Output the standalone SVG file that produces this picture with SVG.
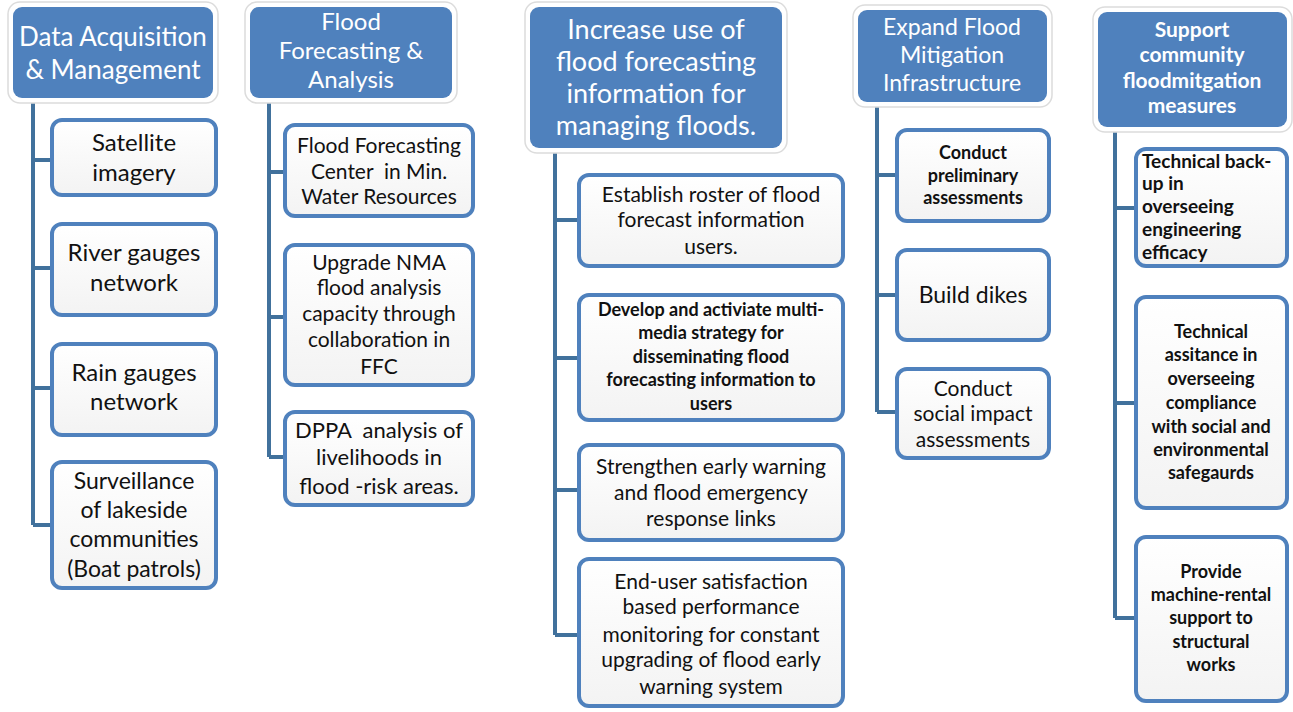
<svg xmlns="http://www.w3.org/2000/svg" width="1293" height="712" viewBox="0 0 1293 712">
<style>
.halo{fill:#fff;stroke:#dcdcdc;stroke-width:1.5}
.head{fill:#4F81BD}
.ht{fill:#fff;font-family:Lato,"Liberation Sans",sans-serif;text-anchor:middle}
.box{fill:url(#g);stroke:#4F81BD;stroke-width:4}
.bt{fill:#111;font-family:Lato,"Liberation Sans",sans-serif;text-anchor:middle}
.b{font-weight:bold}
.con{fill:none;stroke:#41719C;stroke-width:4}
</style>
<defs>
<linearGradient id="g" x1="0" y1="0" x2="0" y2="1"><stop offset="0" stop-color="#ffffff"/><stop offset="1" stop-color="#f3f3f3"/></linearGradient>
</defs>
<rect width="1293" height="712" fill="#fff"/>
<g id="connectors">
<path class="con" d="M33 98V525M33 160H50M33 268H50M33 388H50M33 525H50"/>
<path class="con" d="M269 98V457M269 172H283M269 317H283M269 457H283"/>
<path class="con" d="M555 148V635M555 220H577M555 358H577M555 490H577M555 635H577"/>
<path class="con" d="M877 102V412M877 175H895M877 295H895M877 412H895"/>
<path class="con" d="M1115 127V618M1115 208H1134M1115 403H1134M1115 618H1134"/>
</g>
<g id="h1"><rect class="halo" x="8" y="2" width="210" height="101" rx="12"/><rect class="head" x="13" y="7" width="200" height="91" rx="9"/>
<text class="ht" font-size="26"><tspan x="113" y="46">Data Acquisition</tspan><tspan x="113" y="79">&amp; Management</tspan></text></g>
<g id="h2"><rect class="halo" x="245" y="2" width="212" height="101" rx="12"/><rect class="head" x="250" y="7" width="202" height="91" rx="9"/>
<text class="ht" font-size="24"><tspan x="351" y="30">Flood</tspan><tspan x="351" y="59">Forecasting &amp;</tspan><tspan x="351" y="88">Analysis</tspan></text></g>
<g id="h3"><rect class="halo" x="525" y="2" width="262" height="151" rx="12"/><rect class="head" x="530" y="7" width="252" height="141" rx="9"/>
<text class="ht" font-size="27"><tspan x="656" y="39">Increase use of</tspan><tspan x="656" y="71">flood forecasting</tspan><tspan x="656" y="103">information for</tspan><tspan x="656" y="135">managing floods.</tspan></text></g>
<g id="h4"><rect class="halo" x="853" y="5" width="199" height="102" rx="12"/><rect class="head" x="858" y="10" width="189" height="92" rx="9"/>
<text class="ht" font-size="23"><tspan x="952" y="35">Expand Flood</tspan><tspan x="952" y="63">Mitigation</tspan><tspan x="952" y="91">Infrastructure</tspan></text></g>
<g id="h5"><rect class="halo" x="1093" y="7" width="199" height="125" rx="12"/><rect class="head" x="1098" y="12" width="189" height="115" rx="9"/>
<text class="ht b" font-size="21"><tspan x="1192" y="37">Support</tspan><tspan x="1192" y="62">community</tspan><tspan x="1192" y="88">floodmitgation</tspan><tspan x="1192" y="113">measures</tspan></text></g>

<g id="n1a"><rect class="box" x="52" y="120" width="164" height="75" rx="10"/><text class="bt" font-size="24"><tspan x="134" y="151">Satellite</tspan><tspan x="134" y="181">imagery</tspan></text></g>
<g id="n1b"><rect class="box" x="52" y="224" width="164" height="91" rx="10"/><text class="bt" font-size="24"><tspan x="134" y="261">River gauges</tspan><tspan x="134" y="291">network</tspan></text></g>
<g id="n1c"><rect class="box" x="52" y="344" width="164" height="91" rx="10"/><text class="bt" font-size="24"><tspan x="134" y="381">Rain gauges</tspan><tspan x="134" y="410">network</tspan></text></g>
<g id="n1d"><rect class="box" x="52" y="462" width="164" height="126" rx="10"/><text class="bt" font-size="23"><tspan x="134" y="489">Surveillance</tspan><tspan x="134" y="518">of lakeside</tspan><tspan x="134" y="547">communities</tspan><tspan x="134" y="577">(Boat patrols)</tspan></text></g>

<g id="n2a"><rect class="box" x="285" y="125" width="188" height="91" rx="10"/><text class="bt" font-size="21"><tspan x="379" y="153">Flood Forecasting</tspan><tspan x="379" y="179" xml:space="preserve">Center  in Min.</tspan><tspan x="379" y="204">Water Resources</tspan></text></g>
<g id="n2b"><rect class="box" x="285" y="245" width="188" height="140" rx="10"/><text class="bt" font-size="21"><tspan x="379" y="270">Upgrade NMA</tspan><tspan x="379" y="295">flood analysis</tspan><tspan x="379" y="321">capacity through</tspan><tspan x="379" y="347">collaboration in</tspan><tspan x="379" y="374">FFC</tspan></text></g>
<g id="n2c"><rect class="box" x="285" y="412" width="188" height="93" rx="10"/><text class="bt" font-size="22"><tspan x="379" y="438" xml:space="preserve">DPPA  analysis of</tspan><tspan x="379" y="465">livelihoods in</tspan><tspan x="379" y="494">flood -risk areas.</tspan></text></g>

<g id="n3a"><rect class="box" x="579" y="175" width="264" height="91" rx="10"/><text class="bt" font-size="21"><tspan x="711" y="202">Establish roster of flood</tspan><tspan x="711" y="227">forecast information</tspan><tspan x="711" y="254">users.</tspan></text></g>
<g id="n3b"><rect class="box" x="579" y="295" width="264" height="125" rx="10"/><text class="bt b" font-size="18"><tspan x="711" y="316">Develop and activiate multi-</tspan><tspan x="711" y="339">media strategy for</tspan><tspan x="711" y="363">disseminating flood</tspan><tspan x="711" y="386">forecasting information to</tspan><tspan x="711" y="410">users</tspan></text></g>
<g id="n3c"><rect class="box" x="579" y="445" width="264" height="95" rx="10"/><text class="bt" font-size="21"><tspan x="711" y="474">Strengthen early warning</tspan><tspan x="711" y="500">and flood emergency</tspan><tspan x="711" y="526">response links</tspan></text></g>
<g id="n3d"><rect class="box" x="579" y="559" width="264" height="147" rx="10"/><text class="bt" font-size="21"><tspan x="711" y="589">End-user satisfaction</tspan><tspan x="711" y="614">based performance</tspan><tspan x="711" y="642">monitoring for constant</tspan><tspan x="711" y="667">upgrading of flood early</tspan><tspan x="711" y="694">warning system</tspan></text></g>

<g id="n4a"><rect class="box" x="897" y="130" width="152" height="91" rx="10"/><text class="bt b" font-size="18"><tspan x="973" y="159">Conduct</tspan><tspan x="973" y="182">preliminary</tspan><tspan x="973" y="204">assessments</tspan></text></g>
<g id="n4b"><rect class="box" x="897" y="250" width="152" height="90" rx="10"/><text class="bt" font-size="23"><tspan x="973" y="303">Build dikes</tspan></text></g>
<g id="n4c"><rect class="box" x="897" y="369" width="152" height="89" rx="10"/><text class="bt" font-size="21"><tspan x="973" y="396">Conduct</tspan><tspan x="973" y="421">social impact</tspan><tspan x="973" y="447">assessments</tspan></text></g>

<g id="n5a"><rect class="box" x="1136" y="149" width="151" height="117" rx="10"/><text class="bt b" font-size="19" style="text-anchor:start"><tspan x="1142" y="168">Technical back-</tspan><tspan x="1142" y="190">up in</tspan><tspan x="1142" y="213">overseeing</tspan><tspan x="1142" y="236">engineering</tspan><tspan x="1142" y="259">efficacy</tspan></text></g>
<g id="n5b"><rect class="box" x="1136" y="297" width="151" height="211" rx="10"/><text class="bt b" font-size="18"><tspan x="1211" y="338">Technical</tspan><tspan x="1211" y="361">assitance in</tspan><tspan x="1211" y="385">overseeing</tspan><tspan x="1211" y="409">compliance</tspan><tspan x="1211" y="433">with social and</tspan><tspan x="1211" y="456">environmental</tspan><tspan x="1211" y="479">safegaurds</tspan></text></g>
<g id="n5c"><rect class="box" x="1136" y="537" width="151" height="164" rx="10"/><text class="bt b" font-size="18"><tspan x="1211" y="578">Provide</tspan><tspan x="1211" y="601">machine-rental</tspan><tspan x="1211" y="624">support to</tspan><tspan x="1211" y="648">structural</tspan><tspan x="1211" y="671">works</tspan></text></g>
</svg>
